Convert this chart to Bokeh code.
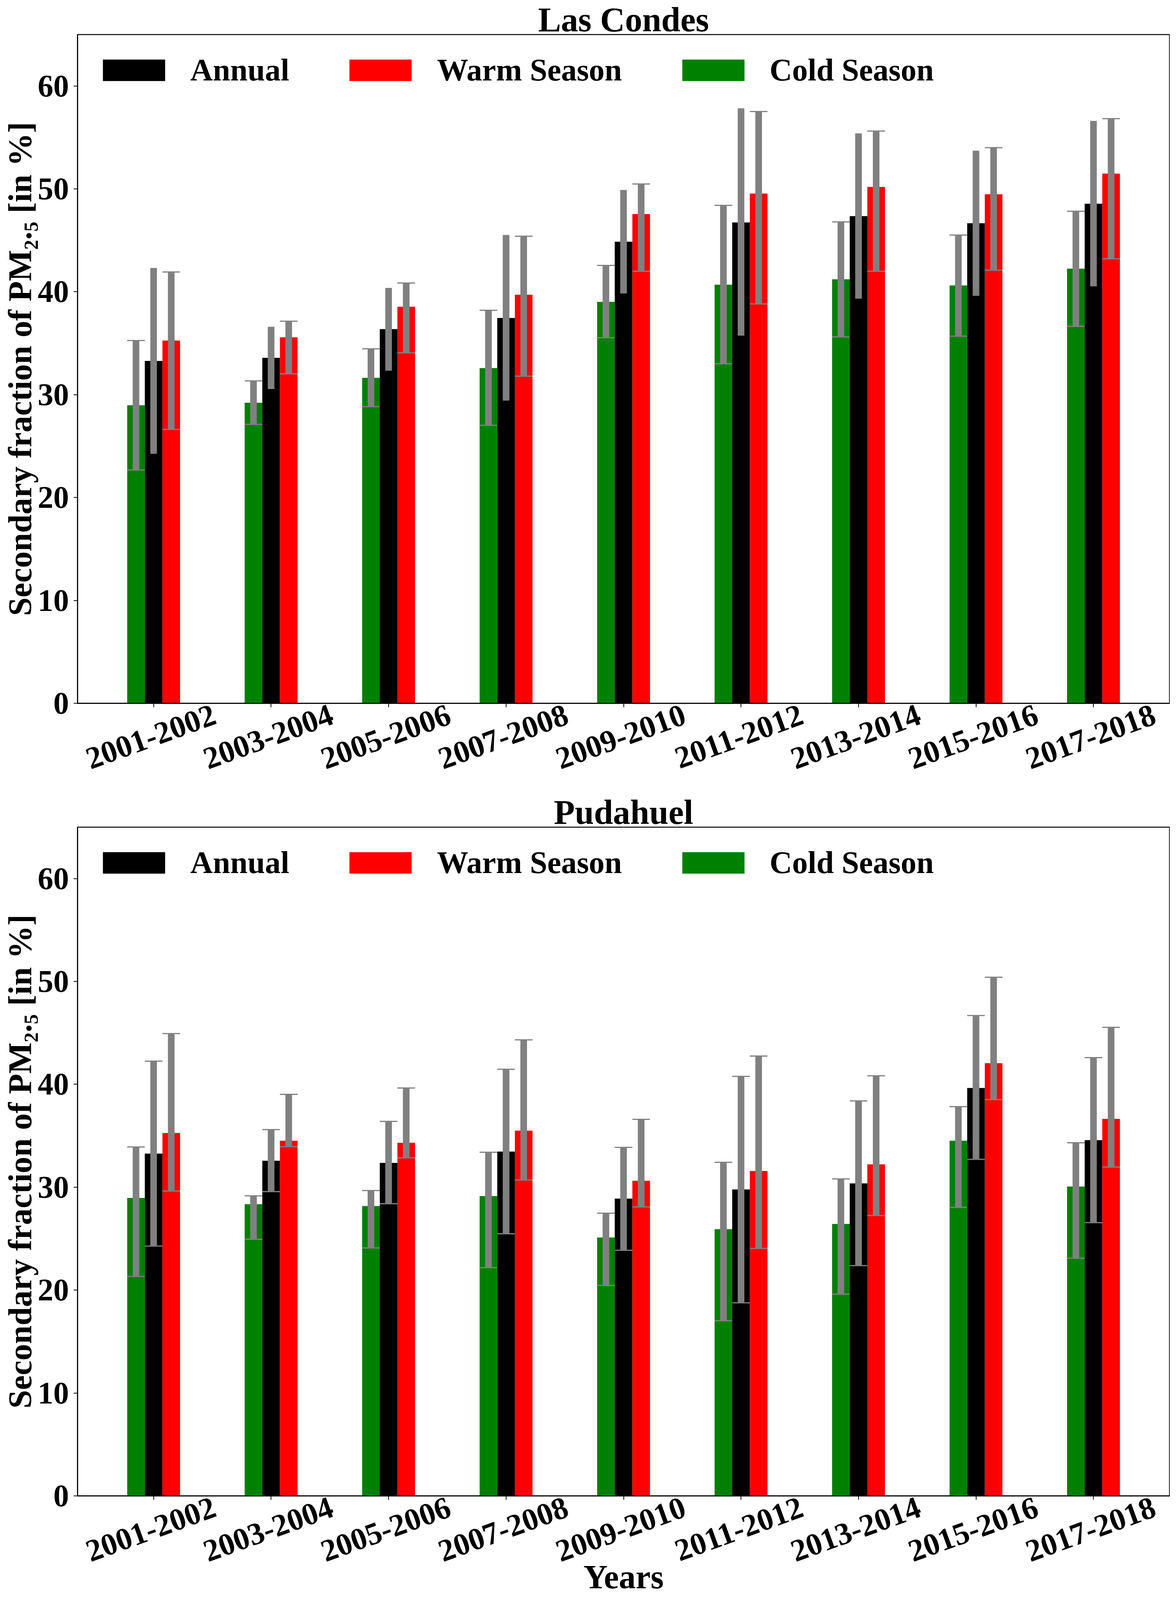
import math
from bokeh.plotting import figure
from bokeh.models import (ColumnDataSource, Range1d, LinearAxis, FixedTicker,
                          Legend, LegendItem)
from bokeh.transform import dodge
from bokeh.layouts import column
from bokeh.embed import file_html
from bokeh.resources import INLINE

periods = ["2001-2002", "2003-2004", "2005-2006", "2007-2008", "2009-2010",
           "2011-2012", "2013-2014", "2015-2016", "2017-2018"]

# ---- Las Condes ----
lc_annual = [33.28, 33.58, 36.37, 37.45, 44.87, 46.74, 47.35, 46.66, 48.56]
lc_annual_lo = [24.25, 30.54, 32.33, 29.42, 39.84, 35.74, 39.33, 39.61, 40.53]
lc_annual_hi = [42.31, 36.60, 40.38, 45.52, 49.90, 57.83, 55.39, 53.71, 56.61]
lc_warm = [35.26, 35.58, 38.55, 39.71, 47.55, 49.55, 50.19, 49.48, 51.48]
lc_warm_lo = [26.62, 32.03, 34.07, 31.80, 41.99, 38.82, 41.99, 42.11, 43.21]
lc_warm_hi = [41.93, 37.14, 40.85, 45.40, 50.48, 57.52, 55.62, 54.01, 56.83]
lc_cold = [28.97, 29.22, 31.64, 32.59, 39.02, 40.69, 41.21, 40.62, 42.25]
lc_cold_lo = [22.69, 27.12, 28.84, 27.02, 35.54, 33.00, 35.61, 35.69, 36.64]
lc_cold_hi = [35.26, 31.34, 34.46, 38.20, 42.56, 48.40, 46.79, 45.51, 47.83]

# ---- Pudahuel ----
pu_annual = [33.27, 32.58, 32.37, 33.47, 28.89, 29.79, 30.37, 39.65, 34.58]
pu_annual_lo = [24.28, 29.58, 28.40, 25.48, 23.87, 18.77, 22.38, 32.71, 26.56]
pu_annual_hi = [42.26, 35.60, 36.40, 41.47, 33.88, 40.78, 38.39, 46.69, 42.60]
pu_warm = [35.27, 34.52, 34.32, 35.50, 30.63, 31.58, 32.22, 42.06, 36.65]
pu_warm_lo = [29.63, 33.94, 32.86, 30.71, 28.09, 24.05, 27.25, 38.52, 31.96]
pu_warm_hi = [44.93, 39.03, 39.65, 44.33, 36.60, 42.75, 40.83, 50.41, 45.54]
pu_cold = [28.96, 28.35, 28.17, 29.14, 25.12, 25.92, 26.43, 34.52, 30.07]
pu_cold_lo = [21.33, 24.94, 24.10, 22.18, 20.46, 17.03, 19.61, 28.04, 23.10]
pu_cold_hi = [33.91, 29.17, 29.68, 33.40, 27.48, 32.42, 30.81, 37.83, 34.32]

y_ticks = [0, 10, 20, 30, 40, 50, 60]

FONT = "Liberation Serif"
GREY = "#808080"
BW = 0.15
SHIFT = 0.517


def make_chart(title, annual, a_lo, a_hi, warm, w_lo, w_hi, cold, c_lo, c_hi,
               annual_caps, height, border_top, border_bottom, xlabel):
    src = ColumnDataSource(dict(
        x=list(range(len(periods))),
        annual=annual, a_lo=a_lo, a_hi=a_hi,
        warm=warm, w_lo=w_lo, w_hi=w_hi,
        cold=cold, c_lo=c_lo, c_hi=c_hi))
    p = figure(width=2994, height=height, output_backend="svg", toolbar_location=None,
               x_range=Range1d(-0.6475, 8.6475), y_range=Range1d(0, 65),
               x_axis_type=None, title=title,
               min_border_left=192, min_border_right=1, min_border_top=border_top,
               min_border_bottom=border_bottom)
    p.extra_x_ranges = {"lab": Range1d(-0.6475 - SHIFT, 8.6475 - SHIFT)}
    p.outline_line_color = "black"
    p.outline_line_width = 2.5
    p.ygrid.visible = False
    p.background_fill_color = "white"

    p.title.text_font = FONT
    p.title.text_font_style = "bold"
    p.title.text_font_size = "88px"
    p.title.text_color = "black"
    p.title.align = "center"
    p.title.standoff = -20

    ya = p.yaxis[0]
    ya.ticker = FixedTicker(ticks=y_ticks)
    ya.major_label_text_font = FONT
    ya.major_label_text_font_style = "bold"
    ya.major_label_text_font_size = "80px"
    ya.major_label_text_color = "black"
    ya.major_tick_out = 10
    ya.major_tick_in = 0
    ya.minor_tick_out = 0
    ya.minor_tick_in = 0
    ya.axis_line_width = 2.5
    ya.major_tick_line_width = 2
    ya.major_label_standoff = 12
    ya.axis_label = "Secondary fraction of PM\u2082.\u2085 [in %]"
    ya.axis_label_text_font = FONT
    ya.axis_label_text_font_style = "bold"
    ya.axis_label_text_font_size = "85px"
    ya.axis_label_text_color = "black"
    ya.axis_label_standoff = -4

    xt = LinearAxis(ticker=FixedTicker(ticks=list(range(len(periods)))),
                    major_label_text_font_size="1px", major_label_text_color=None,
                    major_tick_out=10, major_tick_in=0, minor_tick_out=0,
                    minor_tick_in=0, axis_line_width=2.5, major_tick_line_width=2,
                    major_label_standoff=0)
    p.add_layout(xt, "below")
    xl = LinearAxis(x_range_name="lab",
                    ticker=FixedTicker(ticks=list(range(len(periods)))),
                    major_label_overrides={i: s for i, s in enumerate(periods)},
                    major_label_orientation=math.radians(20),
                    major_label_text_font=FONT, major_label_text_font_style="bold",
                    major_label_text_font_size="80px", major_label_text_color="black",
                    major_tick_out=0, major_tick_in=0, minor_tick_out=0,
                    minor_tick_in=0, axis_line_color=None,
                    major_label_standoff=16)
    if xlabel:
        xl.axis_label = xlabel
        xl.axis_label_text_font = FONT
        xl.axis_label_text_font_style = "bold"
        xl.axis_label_text_font_size = "86px"
        xl.axis_label_text_color = "black"
        xl.axis_label_standoff = -38
    p.add_layout(xl, "below")

    r_cold = p.vbar(x=dodge("x", -BW), top="cold", bottom=0, width=BW, source=src,
                    fill_color="green", line_color=None)
    r_ann = p.vbar(x=dodge("x", 0), top="annual", bottom=0, width=BW, source=src,
                   fill_color="black", line_color=None)
    r_warm = p.vbar(x=dodge("x", BW), top="warm", bottom=0, width=BW, source=src,
                    fill_color="red", line_color=None)

    for off, lo, hi, caps in [(-BW, "c_lo", "c_hi", True),
                              (0, "a_lo", "a_hi", annual_caps),
                              (BW, "w_lo", "w_hi", True)]:
        p.segment(x0=dodge("x", off), y0=lo, x1=dodge("x", off), y1=hi, source=src,
                  line_color=GREY, line_width=17)
        if caps:
            for col in (lo, hi):
                p.rect(x=dodge("x", off), y=col, width=BW, height=3,
                       height_units="screen", source=src, fill_color=GREY,
                       line_color=None)

    legend = Legend(items=[LegendItem(label="Annual", renderers=[r_ann]),
                           LegendItem(label="Warm Season", renderers=[r_warm]),
                           LegendItem(label="Cold Season", renderers=[r_cold])],
                    location="top_left", orientation="horizontal",
                    glyph_width=199, glyph_height=69, label_standoff=45,
                    label_height=92, spacing=134, margin=45, padding=0,
                    label_text_font=FONT, label_text_font_style="bold",
                    label_text_font_size="80px", label_text_color="black",
                    border_line_color=None, background_fill_alpha=0)
    p.add_layout(legend)
    return p


p1 = make_chart("Las Condes", lc_annual, lc_annual_lo, lc_annual_hi, lc_warm,
                lc_warm_lo, lc_warm_hi, lc_cold, lc_cold_lo, lc_cold_hi,
                False, 2029, 88, 229, None)
p2 = make_chart("Pudahuel", pu_annual, pu_annual_lo, pu_annual_hi, pu_warm,
                pu_warm_lo, pu_warm_hi, pu_cold, pu_cold_lo, pu_cold_hi,
                True, 2074, 88, 274, "Years")

layout = column(p1, p2)
open("out.html", "w").write(file_html(layout, INLINE))
